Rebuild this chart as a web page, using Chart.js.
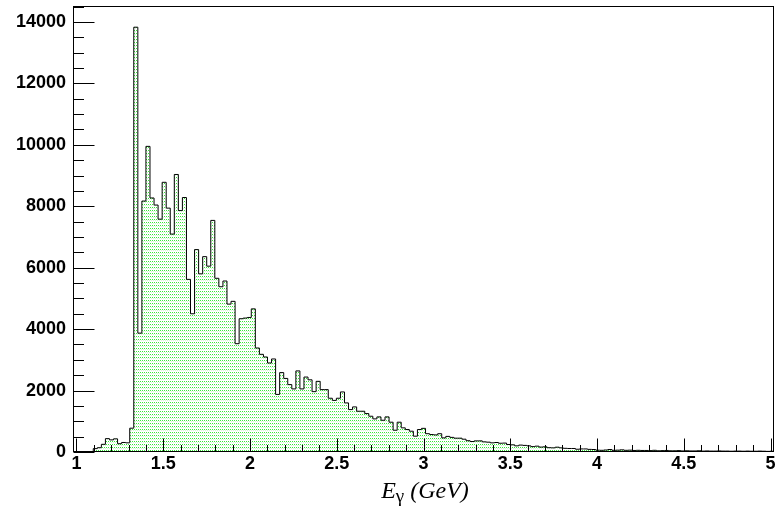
<!DOCTYPE html>
<html><head><meta charset="utf-8">
<script src="https://cdn.jsdelivr.net/npm/chart.js@4.4.1/dist/chart.umd.min.js"></script>
<style>html,body{margin:0;padding:0;background:#fff;}canvas{display:block;}</style>
</head><body>
<canvas id="c" width="778" height="511"></canvas>
<script>
// histogram definition
const histXMin = 0.98;
const histXMax = 5.02;
// bin contents (173 bins)
const counts = [
  0,0,0,0,0,110,140,250,435,395,
  428,270,310,298,775,13830,3870,8170,9950,8270,
  8040,7580,8780,7940,7095,9035,7860,8285,5620,4500,
  6590,5800,6360,6050,7540,5655,5380,5567,4815,4905,
  3526,4339,4360,4380,4660,3386,3180,3093,2899,3029,
  1875,2585,2395,2194,2054,2640,2054,2440,2350,1965,
  2300,2031,2031,1750,1680,1750,1955,1598,1381,1468,
  1327,1327,1251,1164,1078,1143,1034,1143,970,709,
  970,786,731,677,515,731,770,596,568,557,
  595,460,508,476,450,450,417,368,341,362,
  363,330,320,298,309,285,290,244,233,200,
  225,215,200,175,190,160,168,140,135,157,
  135,120,114,114,90,100,100,85,81,60,
  55,65,81,55,60,70,55,60,50,55,
  50,50,45,55,40,45,50,40,40,45,
  35,40,35,35,40,30,35,30,30,35,
  30,30,25,30,30,25,30,25,25,30,
  25,20,25
];
const xTickLabels = [1, 1.5, 2, 2.5, 3, 3.5, 4, 4.5, 5];
const yTickLabels = [0, 2000, 4000, 6000, 8000, 10000, 12000, 14000];
const yMax = 14520;
const xTitleParts = ['E', '\u03B3', ' (GeV)'];

const nBins = counts.length;
const bw = (histXMax - histXMin) / nBins;
const pts = [{x: histXMin, y: 0}];
counts.forEach((c, i) => pts.push({x: histXMin + i * bw, y: c}));
pts.push({x: histXMax, y: counts[nBins - 1]});
pts.push({x: histXMax, y: 0});

// dotted green fill pattern
const pc = document.createElement('canvas');
pc.width = 2; pc.height = 3;
const pctx = pc.getContext('2d');
pctx.fillStyle = '#ffffff'; pctx.fillRect(0, 0, 2, 3);
pctx.fillStyle = '#3ae63a'; pctx.fillRect(0, 0, 1, 1);
pctx.fillStyle = '#d6f7d6'; pctx.fillRect(1, 1, 1, 1);
const pattern = pctx.createPattern(pc, 'repeat');

const framePlugin = {
  id: 'frame',
  afterDatasetsDraw(chart) {
    const {ctx, chartArea: a, scales: {x, y}} = chart;
    ctx.save();
    ctx.strokeStyle = '#000';
    ctx.lineWidth = 1;
    const L = Math.round(a.left) + 0.5, R = Math.round(a.right) - 0.5;
    const T = Math.round(a.top) + 0.5, B = Math.round(a.bottom) - 0.5;
    ctx.strokeRect(L, T, R - L, B - T);
    ctx.beginPath();
    for (let i = 10; i <= 50; i++) {
      const px = Math.round(x.getPixelForValue(i / 10)) + 0.5;
      const len = (i % 5 === 0) ? 13 : 6.5;
      ctx.moveTo(px, B); ctx.lineTo(px, B - len);
    }
    for (let v = 0; v <= 14500; v += 500) {
      const py = Math.round(y.getPixelForValue(v)) + 0.5;
      const len = (v % 2000 === 0) ? 21 : 10.5;
      ctx.moveTo(L, py); ctx.lineTo(L + len, py);
    }
    ctx.stroke();
    ctx.restore();
  },
  afterDraw(chart) {
    const {ctx} = chart;
    ctx.save();
    ctx.fillStyle = '#000';
    ctx.textBaseline = 'alphabetic';
    const f1 = 'italic 24px "Liberation Serif", "DejaVu Serif", serif';
    const f2 = '19px "Liberation Serif", "DejaVu Serif", serif';
    ctx.font = f1; const w0 = ctx.measureText(xTitleParts[0]).width;
    ctx.font = f2; const w1 = ctx.measureText(xTitleParts[1]).width;
    ctx.font = f1; const w2 = ctx.measureText(xTitleParts[2]).width;
    const total = w0 + w1 + w2;
    let xx = 425 - total / 2;
    const base = 498;
    ctx.font = f1; ctx.fillText(xTitleParts[0], xx, base); xx += w0;
    ctx.font = f2; ctx.fillText(xTitleParts[1], xx, base + 4); xx += w1;
    ctx.font = f1; ctx.fillText(xTitleParts[2], xx, base);
    ctx.restore();
  }
};

const tickFont = {family: '"Liberation Sans", Arial, sans-serif', weight: 'bold', size: 18};

new Chart(document.getElementById('c'), {
  type: 'line',
  data: {
    datasets: [{
      data: pts,
      stepped: true,
      borderColor: '#000',
      borderWidth: 1,
      backgroundColor: pattern,
      fill: 'origin',
      pointRadius: 0,
      tension: 0
    }]
  },
  options: {
    responsive: false,
    animation: false,
    devicePixelRatio: 1,
    layout: {padding: {left: 0, right: 4, top: 6, bottom: 0}},
    plugins: {legend: {display: false}, tooltip: {enabled: false}},
    scales: {
      x: {
        type: 'linear', min: histXMin, max: histXMax,
        afterBuildTicks: s => { s.ticks = xTickLabels.map(v => ({value: v})); },
        afterFit: s => { s.height = 59; s.paddingLeft = 0; s.paddingRight = 0; },
        ticks: {font: tickFont, color: '#000', padding: 1, maxRotation: 0, autoSkip: false, callback: v => String(v)},
        grid: {display: false, drawTicks: false},
        border: {display: false}
      },
      y: {
        type: 'linear', min: 0, max: yMax,
        afterBuildTicks: s => { s.ticks = yTickLabels.map(v => ({value: v})); },
        afterFit: s => { s.width = 73; s.paddingTop = 0; s.paddingBottom = 0; },
        ticks: {font: tickFont, color: '#000', padding: 7, autoSkip: false, callback: v => String(v)},
        grid: {display: false, drawTicks: false},
        border: {display: false}
      }
    }
  },
  plugins: [framePlugin]
});
</script>
</body></html>
